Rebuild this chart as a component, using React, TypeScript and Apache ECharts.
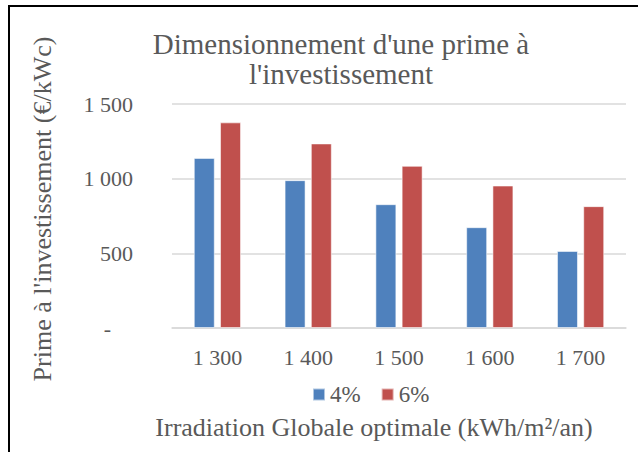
import React, { useEffect, useRef } from "react";
import * as echarts from "echarts";

const categories = ["1 300", "1 400", "1 500", "1 600", "1 700"];
const series4 = [1139, 990, 829, 675, 516];
const series6 = [1377, 1236, 1086, 954, 816];
const seriesNames = ["4%", "6%"];
const yTicks = [0, 500, 1000, 1500];

const FONT = "'Liberation Serif', 'DejaVu Serif', serif";
const GRAY = "#595959";

function fmt(v: number): string {
  if (v === 0) return "-    ";
  const s = String(Math.round(v));
  return s.replace(/\B(?=(\d{3})+(?!\d))/g, " ");
}

export default function App() {
  const ref = useRef<HTMLDivElement>(null);
  useEffect(() => {
    if (!ref.current) return;
    const chart = echarts.init(ref.current, undefined, { renderer: "svg" });
    chart.setOption({
      animation: false,
      backgroundColor: "#ffffff",
      title: {
        text: "Dimensionnement d'une prime à\nl'investissement",
        left: 336,
        top: 24,
        textAlign: "center",
        textStyle: {
          fontFamily: FONT,
          fontSize: 29,
          lineHeight: 30,
          fontWeight: "normal",
          color: GRAY,
        },
      },
      legend: {
        data: seriesNames,
        left: 307,
        top: 378,
        icon: "rect",
        itemWidth: 12,
        itemHeight: 12,
        itemGap: 20,
        textStyle: { fontFamily: FONT, fontSize: 23, color: GRAY },
      },
      grid: { left: 172, right: 12, top: 104, bottom: 124 },
      xAxis: {
        type: "category",
        data: categories,
        name: "Irradiation Globale optimale (kWh/m²/an)",
        nameLocation: "middle",
        nameGap: 86,
        nameTextStyle: {
          fontFamily: FONT,
          fontSize: 26,
          color: GRAY,
          padding: [0, 50, 0, 0],
        },
        axisLine: { show: true, lineStyle: { color: "#D9D9D9", width: 1.5 } },
        axisTick: { show: false },
        axisLabel: { fontFamily: FONT, fontSize: 22, color: GRAY, margin: 18 },
      },
      yAxis: {
        type: "value",
        min: yTicks[0],
        max: yTicks[yTicks.length - 1],
        interval: 500,
        name: "Prime à l'investissement (€/kWc)",
        nameLocation: "middle",
        nameGap: 117,
        nameRotate: 90,
        nameTextStyle: {
          fontFamily: FONT,
          fontSize: 26,
          color: GRAY,
          padding: [0, 0, 0, 14],
        },
        axisLine: { show: false },
        axisTick: { show: false },
        splitLine: { lineStyle: { color: "#D9D9D9", width: 1.5 } },
        axisLabel: {
          fontFamily: FONT,
          fontSize: 22,
          color: GRAY,
          margin: 39,
          formatter: (v: number) => fmt(v),
        },
      },
      graphic: [
        {
          type: "line",
          shape: { x1: 9, y1: 5, x2: 9, y2: 452 },
          style: { stroke: "#000000", lineWidth: 2 },
        },
        {
          type: "line",
          shape: { x1: 8, y1: 6, x2: 638, y2: 6 },
          style: { stroke: "#000000", lineWidth: 2 },
        },
      ],
      series: [
        {
          name: seriesNames[0],
          type: "bar",
          data: series4,
          barWidth: 21,
          barGap: "25%",
          itemStyle: {
            color: "#4F81BD",
            borderColor: "rgba(255,255,255,0.55)",
            borderWidth: 1,
          },
        },
        {
          name: seriesNames[1],
          type: "bar",
          data: series6,
          barWidth: 21,
          barGap: "25%",
          itemStyle: {
            color: "#C0504D",
            borderColor: "rgba(255,255,255,0.55)",
            borderWidth: 1,
          },
        },
      ],
    });
    return () => chart.dispose();
  }, []);
  return (
    <div
      ref={ref}
      style={{ width: 638, height: 452, position: "fixed", left: 0, top: 0 }}
    />
  );
}
